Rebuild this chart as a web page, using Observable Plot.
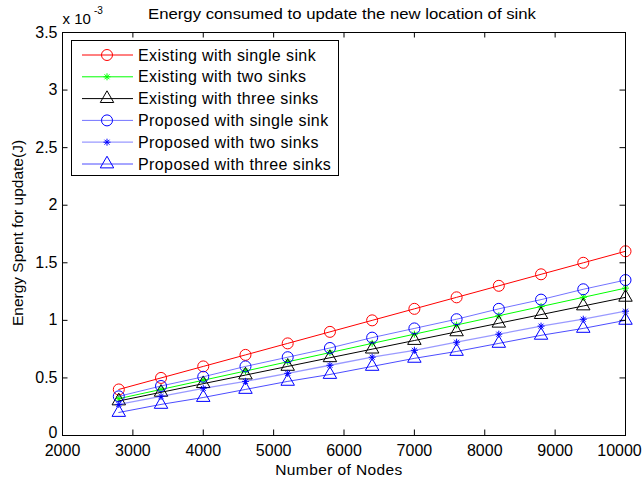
<!DOCTYPE html>
<html><head><meta charset="utf-8">
<script src="https://cdn.jsdelivr.net/npm/d3@7"></script>
<script src="https://cdn.jsdelivr.net/npm/@observablehq/plot@0.6"></script>
<style>body{margin:0;background:#fff} svg{display:block}</style>
</head><body><div id="chart"></div>
<script>
const nodes = [2800, 3400, 4000, 4600, 5200, 5800, 6400, 7000, 7600, 8200, 8800, 9400, 10000];
const existingSingle = [0.40, 0.50, 0.60, 0.70, 0.80, 0.90, 1.00, 1.10, 1.20, 1.30, 1.40, 1.50, 1.60];
const existingTwo    = [0.32, 0.40, 0.48, 0.56, 0.64, 0.72, 0.80, 0.88, 0.96, 1.04, 1.12, 1.20, 1.28];
const existingThree  = [0.30, 0.375, 0.45, 0.525, 0.60, 0.675, 0.75, 0.825, 0.90, 0.975, 1.05, 1.125, 1.20];
const proposedSingle = [0.34, 0.43, 0.51, 0.60, 0.68, 0.76, 0.85, 0.93, 1.01, 1.10, 1.18, 1.27, 1.35];
const proposedTwo    = [0.27, 0.34, 0.41, 0.47, 0.54, 0.61, 0.68, 0.74, 0.81, 0.88, 0.95, 1.01, 1.08];
const proposedThree  = [0.20, 0.27, 0.33, 0.40, 0.47, 0.53, 0.60, 0.67, 0.73, 0.80, 0.87, 0.93, 1.00];
const seriesNames = ["Existing with single sink", "Existing with two sinks", "Existing with three sinks",
  "Proposed with single sink", "Proposed with two sinks", "Proposed with three sinks"];
const xTicks = [2000, 3000, 4000, 5000, 6000, 7000, 8000, 9000, 10000];
const yTicks = [0, 0.5, 1, 1.5, 2, 2.5, 3, 3.5];
const titleText = "Energy consumed to update the new location of sink";
const xLabel = "Number of Nodes";
const yLabel = "Energy Spent for update(J)";

const W = 643, H = 481, mL = 62, mR = 18, mT = 32, mB = 46;
const pw = W - mL - mR, ph = H - mT - mB;
const font = "'Liberation Sans', Arial, sans-serif";

const star = {draw(ctx, size) {
  const r = Math.sqrt(size / Math.PI), d = r * 0.7071;
  ctx.moveTo(-r, 0); ctx.lineTo(r, 0); ctx.moveTo(0, -r); ctx.lineTo(0, r);
  ctx.moveTo(-d, -d); ctx.lineTo(d, d); ctx.moveTo(-d, d); ctx.lineTo(d, -d);
}};

const seriesValues = [existingSingle, existingTwo, existingThree, proposedSingle, proposedTwo, proposedThree];
const styles = [
  {line: "#ff0000", op: 1, mark: "#ff0000", sym: "circle", r: 5.5, w: 1},
  {line: "#00ff00", op: 1, mark: "#00ff00", sym: star, r: 3.5, w: 1},
  {line: "#000000", op: 1, mark: "#000000", sym: "triangle", r: 5, w: 1},
  {line: "#0000ff", op: 0.55, mark: "#0000ff", sym: "circle", r: 5.5, w: 1},
  {line: "#0000ff", op: 0.4, mark: "#0000ff", sym: star, r: 3.5, w: 1.3},
  {line: "#0000ff", op: 0.7, mark: "#0000ff", sym: "triangle", r: 5, w: 1}
];

const marks = [];
seriesValues.forEach((vals, k) => {
  const data = vals.map((v, i) => ({x: nodes[i], y: v}));
  const s = styles[k];
  marks.push(Plot.line(data, {x: "x", y: "y", stroke: s.line, strokeOpacity: s.op, strokeWidth: s.w}));
  marks.push(Plot.dot(data, {x: "x", y: "y", symbol: () => s.sym, r: s.r, stroke: s.mark, fill: "none", strokeWidth: 1}));
});

const tl = 5.5;
const xInner = xTicks.slice(0, -1), xLast = xTicks.slice(-1);
const yZero = yTicks.slice(0, 1), yRest = yTicks.slice(1);
const chart = Plot.plot({
  width: W, height: H, marginLeft: mL, marginRight: mR, marginTop: mT, marginBottom: mB,
  style: {fontFamily: font, fontSize: "16px", color: "#000", background: "#fff"},
  x: {domain: [2000, 10000], axis: null},
  y: {domain: [0, 3.5], axis: null},
  symbol: {type: "identity"},
  marks: [
    ...marks,
    Plot.frame({stroke: "#000", strokeWidth: 1}),
    Plot.tickX(xTicks, {x: d => d, insetTop: ph - tl, stroke: "#000"}),
    Plot.tickX(xTicks, {x: d => d, insetBottom: ph - tl, stroke: "#000"}),
    Plot.tickY(yTicks, {y: d => d, insetRight: pw - tl, stroke: "#000"}),
    Plot.tickY(yTicks, {y: d => d, insetLeft: pw - tl, stroke: "#000"}),
    Plot.text(xInner, {x: d => d, text: d => String(d), frameAnchor: "bottom", lineAnchor: "top", dy: 9, fontSize: 16, fill: "#000"}),
    Plot.text(xLast, {x: d => d, text: d => String(d), frameAnchor: "bottom", lineAnchor: "top", dy: 9, dx: -6, fontSize: 16, fill: "#000"}),
    Plot.text(yRest, {y: d => d, text: d => String(d), frameAnchor: "left", textAnchor: "end", dx: -5, fontSize: 16, fill: "#000"}),
    Plot.text(yZero, {y: d => d, text: d => String(d), frameAnchor: "left", textAnchor: "end", dx: -5, dy: -3, fontSize: 16, fill: "#000"})
  ]
});
document.getElementById("chart").appendChild(chart);

const svg = d3.select(chart);
const txt = svg.append("g").attr("font-family", font).attr("fill", "#000");
txt.append("text").attr("x", 342).attr("y", 19).attr("text-anchor", "middle").attr("font-size", 14.5)
  .attr("textLength", 388).attr("lengthAdjust", "spacingAndGlyphs").text(titleText);
txt.append("text").attr("x", 62.5).attr("y", 24).attr("text-anchor", "start").attr("font-size", 15).text("x 10");
txt.append("text").attr("x", 94).attr("y", 14).attr("text-anchor", "start").attr("font-size", 10).text("-3");
txt.append("text").attr("x", 339).attr("y", 475).attr("text-anchor", "middle").attr("font-size", 15.5)
  .attr("letter-spacing", 0.4).text(xLabel);
txt.append("text").attr("transform", "translate(23,233) rotate(-90)").attr("text-anchor", "middle").attr("font-size", 15.5).text(yLabel);

// legend
const lg = svg.append("g").attr("font-family", font).attr("text-anchor", "start");
lg.append("rect").attr("x", 71.5).attr("y", 40.5).attr("width", 267).attr("height", 135)
  .attr("fill", "#fff").attr("stroke", "#000");
seriesNames.forEach((name, k) => {
  const s = styles[k];
  const cy = 55 + k * 21.8;
  lg.append("line").attr("x1", 82).attr("x2", 133).attr("y1", cy).attr("y2", cy)
    .attr("stroke", s.line).attr("stroke-opacity", s.op).attr("stroke-width", s.w);
  const symType = typeof s.sym === "string" ? (s.sym === "circle" ? d3.symbolCircle : d3.symbolTriangle) : s.sym;
  lg.append("path").attr("transform", `translate(107,${cy})`)
    .attr("d", d3.symbol(symType, Math.PI * s.r * s.r)())
    .attr("fill", "none").attr("stroke", s.mark);
  lg.append("text").attr("x", 138).attr("y", cy + 5.5).attr("text-anchor", "start").attr("font-size", 16)
    .attr("letter-spacing", 0.4).attr("fill", "#000").text(name);
});
</script></body></html>
